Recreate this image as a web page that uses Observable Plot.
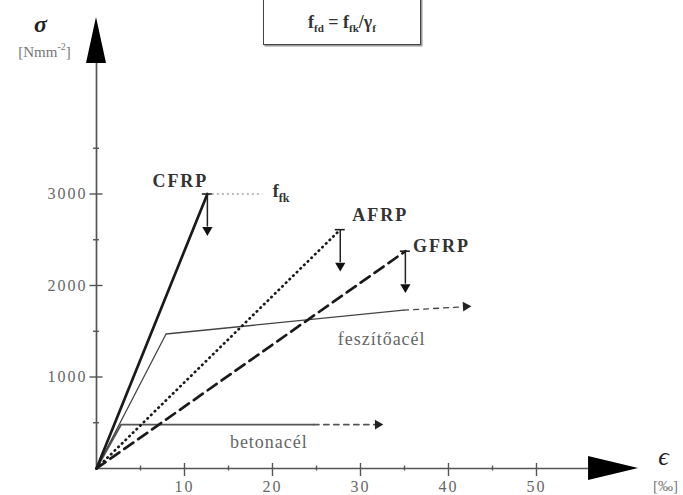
<!DOCTYPE html>
<html><head><meta charset="utf-8">
<script src="https://cdn.jsdelivr.net/npm/d3@7"></script>
<script src="https://cdn.jsdelivr.net/npm/@observablehq/plot@0.6"></script>
<style>
body{margin:0;background:#fff;}
#chart{position:relative;width:683px;height:495px;overflow:hidden;}
#formula{position:absolute;left:263px;top:-4px;width:158px;height:49px;border:1.5px solid #444;box-shadow:1.5px 1.5px 0 #999;
  font-family:"Liberation Serif",serif;font-weight:bold;font-size:18px;color:#333;display:flex;align-items:center;justify-content:center;padding-top:4px;box-sizing:border-box;}
#formula sub{font-size:11px;vertical-align:-4px;line-height:0;}
</style></head><body>
<div id="chart"><div id="formula"><span>f<sub>fd</sub> = f<sub>fk</sub>/γ<sub>f</sub></span></div></div>
<script>
// ---- data (strain in ‰, stress in N/mm²) ----
const frpNames = ["CFRP", "AFRP", "GFRP"];
const frpStrain = [12.6, 27.7, 35.1];
const frpStress = [3000, 2610, 2375];
const ffkEnd = 18.9;                       // end of dotted f_fk line
const prestressName = "feszítőacél";
const prestressStrain = [0, 7.9, 34.9];
const prestressStress = [0, 1470, 1730];
const prestressArrow = [42.3, 1770];
const rebarName = "betonacél";
const rebarStrain = [0, 2.8, 24.7];
const rebarStress = [0, 480, 480];
const rebarArrow = [32.3, 480];
const xTicks = [10, 20, 30, 40, 50];
const xMinor = [5, 15, 25, 35, 45];
const yTicks = [1000, 2000, 3000];
const yMinor = [500, 1500, 2500, 3500];
const xAxisEnd = 61.6;
const yAxisEnd = 4930;
const yLabel = "σ", yUnit = "[Nmm-2]", xLabel = "ϵ", xUnit = "[‰]";

// scales
const X_DOMAIN = [0, 50], X_RANGE = [96, 536];
const Y_DOMAIN = [0, 3000], Y_RANGE = [468, 193.5];
const kx = (X_RANGE[1] - X_RANGE[0]) / (X_DOMAIN[1] - X_DOMAIN[0]);
const ky = (Y_RANGE[0] - Y_RANGE[1]) / (Y_DOMAIN[1] - Y_DOMAIN[0]);
const px = p => p / kx, py = p => p / ky;

const toPts = (xs, ys) => xs.map((x, i) => ({x, y: ys[i]}));
const frp = frpNames.map((n, i) => ({name: n, x: frpStrain[i], y: frpStress[i]}));
const frpLine = i => [{x: 0, y: 0}, {x: frpStrain[i], y: frpStress[i]}];
const prestress = toPts(prestressStrain, prestressStress);
const rebar = toPts(rebarStrain, rebarStress);
const pLast = prestress[prestress.length - 1], rLast = rebar[rebar.length - 1];
const pExt = [pLast, {x: prestressArrow[0], y: prestressArrow[1]}];
const rExt = [rLast, {x: rebarArrow[0], y: rebarArrow[1]}];

const serif = "'Liberation Serif', 'Times New Roman', serif";
const axisC = "#555", textC = "#666";

const chart = Plot.plot({
  width: 683, height: 495,
  style: {background: "#fff", overflow: "visible", fontFamily: serif},
  x: {domain: X_DOMAIN, range: X_RANGE, axis: null},
  y: {domain: Y_DOMAIN, range: Y_RANGE, axis: null},
  marks: [
    // axes
    Plot.ruleY([0], {x1: 0, x2: xAxisEnd - px(48), stroke: axisC, strokeWidth: 1.7}),
    Plot.ruleX([0], {y1: 0, y2: yAxisEnd - py(44), stroke: axisC, strokeWidth: 1.7}),
    Plot.area([{a: xAxisEnd - px(50), lo: -py(12), hi: py(12)}, {a: xAxisEnd, lo: 0, hi: 0}],
      {x1: "a", y1: "lo", y2: "hi", fill: "#000"}),
    Plot.area([{a: yAxisEnd - py(46), lo: -px(10), hi: px(10)}, {a: yAxisEnd, lo: 0, hi: 0}],
      {y1: "a", x1: "lo", x2: "hi", fill: "#000"}),
    Plot.ruleX(xTicks, {x: d => d, y1: -py(8), y2: py(5), stroke: axisC, strokeWidth: 1.4}),
    Plot.ruleX(xMinor, {x: d => d, y1: -py(2.5), y2: py(2.5), stroke: axisC, strokeWidth: 1.4}),
    Plot.ruleY(yTicks, {y: d => d, x1: -px(6.5), x2: px(6.5), stroke: axisC, strokeWidth: 1.4}),
    Plot.ruleY(yMinor, {y: d => d, x1: -px(3), x2: px(3), stroke: axisC, strokeWidth: 1.4}),
    Plot.text(xTicks, {x: d => d, y: () => 0, dy: 18, text: d => String(d), fill: textC,
      fontFamily: serif, fontSize: 16}),
    Plot.text(yTicks, {x: () => 0, y: d => d, dx: -9, text: d => String(d), textAnchor: "end", fill: textC,
      fontFamily: serif, fontSize: 16}),
    Plot.text([yLabel], {x: () => 0, y: () => yAxisEnd, dx: -56, dy: 7, text: d => d, fontFamily: serif,
      fontSize: 24, fontWeight: "bold", fontStyle: "italic", fill: "#222"}),
    Plot.text([yUnit], {x: () => 0, y: () => yAxisEnd, dx: -52, dy: 35, text: d => d, fontFamily: serif,
      fontSize: 15, fill: "#777"}),
    Plot.text([xLabel], {x: () => xAxisEnd, y: () => 0, dx: 25, dy: -12, text: d => d, fontFamily: serif,
      fontSize: 26, fontStyle: "italic", fill: "#222"}),
    Plot.text([xUnit], {x: () => xAxisEnd, y: () => 0, dx: 27, dy: 18, text: d => d, fontFamily: serif,
      fontSize: 15, fill: "#777"}),

    // reinforcing steel
    Plot.line(rebar, {x: "x", y: "y", stroke: "#555", strokeWidth: 1.9}),
    Plot.line(rExt, {x: "x", y: "y", stroke: "#555", strokeWidth: 1.9, strokeDasharray: "5,5"}),
    Plot.dot([rebarArrow], {x: d => d[0], y: d => d[1], dx: -3, symbol: "triangle", rotate: 90, r: 3.6, fill: "#222"}),
    Plot.text([rLast], {x: "x", y: "y", dx: -45, dy: 18, text: () => rebarName, fontFamily: serif,
      fontSize: 18, fill: textC}),

    // prestressing steel
    Plot.line(prestress, {x: "x", y: "y", stroke: "#444", strokeWidth: 1.3}),
    Plot.line(pExt, {x: "x", y: "y", stroke: "#444", strokeWidth: 1.3, strokeDasharray: "5,5"}),
    Plot.dot([prestressArrow], {x: d => d[0], y: d => d[1], dx: -3, symbol: "triangle", rotate: 87, r: 3.6, fill: "#222"}),
    Plot.text([pLast], {x: "x", y: "y", dx: -22, dy: 29, text: () => prestressName, fontFamily: serif,
      fontSize: 18, fill: textC}),

    // FRP lines
    Plot.line(frpLine(0), {x: "x", y: "y", stroke: "#1a1a1a", strokeWidth: 2.7}),
    Plot.line(frpLine(1), {x: "x", y: "y", stroke: "#1a1a1a", strokeWidth: 2.7, strokeDasharray: "0.5,4.6", strokeLinecap: "round"}),
    Plot.line(frpLine(2), {x: "x", y: "y", stroke: "#1a1a1a", strokeWidth: 2.7, strokeDasharray: "11,6"}),
    // caps and design-value arrows
    Plot.ruleY(frp, {y: "y", x1: d => d.x - px(5), x2: d => d.x + px(5), stroke: "#222", strokeWidth: 1.6}),
    Plot.ruleX(frp, {x: "x", y1: "y", y2: d => d.y - py(33), stroke: "#222", strokeWidth: 1.5}),
    Plot.dot(frp, {x: "x", y: "y", dy: 36, symbol: "triangle", rotate: 180, r: 3.8, fill: "#111"}),
    // f_fk
    Plot.ruleY([frp[0]], {y: "y", x1: d => d.x + px(5), x2: () => ffkEnd, stroke: "#777", strokeWidth: 1, strokeDasharray: "2,3"}),
    Plot.text([frp[0]], {x: () => ffkEnd, y: "y", dx: 10, dy: -3, text: () => "f_fk", textAnchor: "start",
      fontFamily: serif, fontSize: 18, fontWeight: "bold", fill: "#333"}),
    // FRP labels
    Plot.text([frp[0]], {x: "x", y: "y", dx: -27, dy: -13, text: "name", fontFamily: serif, fontSize: 18,
      fontWeight: "bold", fill: "#333"}),
    Plot.text([frp[1]], {x: "x", y: "y", dx: 40, dy: -14, text: "name", fontFamily: serif, fontSize: 18,
      fontWeight: "bold", fill: "#333"}),
    Plot.text([frp[2]], {x: "x", y: "y", dx: 36, dy: -5, text: "name", fontFamily: serif, fontSize: 18,
      fontWeight: "bold", fill: "#333"})
  ]
});

// subscripts / superscripts as real text, plus letter spacing
const NS = "http://www.w3.org/2000/svg";
function rich(t, parts) {
  t.textContent = "";
  let shift = 0;
  for (const [s, kind, size] of parts) {
    const ts = document.createElementNS(NS, "tspan");
    const target = kind === "sub" ? 5 : kind === "sup" ? -7 : 0;
    if (target !== shift) { ts.setAttribute("dy", target - shift); shift = target; }
    if (size) ts.setAttribute("font-size", size);
    ts.textContent = s;
    t.appendChild(ts);
  }
}
const spacing = {CFRP: 2, AFRP: 2, GFRP: 2, [rebarName]: 1, [prestressName]: 1};
xTicks.concat(yTicks).forEach(v => spacing[String(v)] = 2);
chart.querySelectorAll("text").forEach(t => {
  const s = t.textContent;
  if (spacing[s] != null) t.setAttribute("letter-spacing", spacing[s]);
  if (s === "f_fk") rich(t, [["f", "", null], ["fk", "sub", 12]]);
  if (s === "[Nmm-2]") rich(t, [["[Nmm", "", null], ["-2", "sup", 10], ["]", "", null]]);
});
document.getElementById("chart").appendChild(chart);
</script>
</body></html>
